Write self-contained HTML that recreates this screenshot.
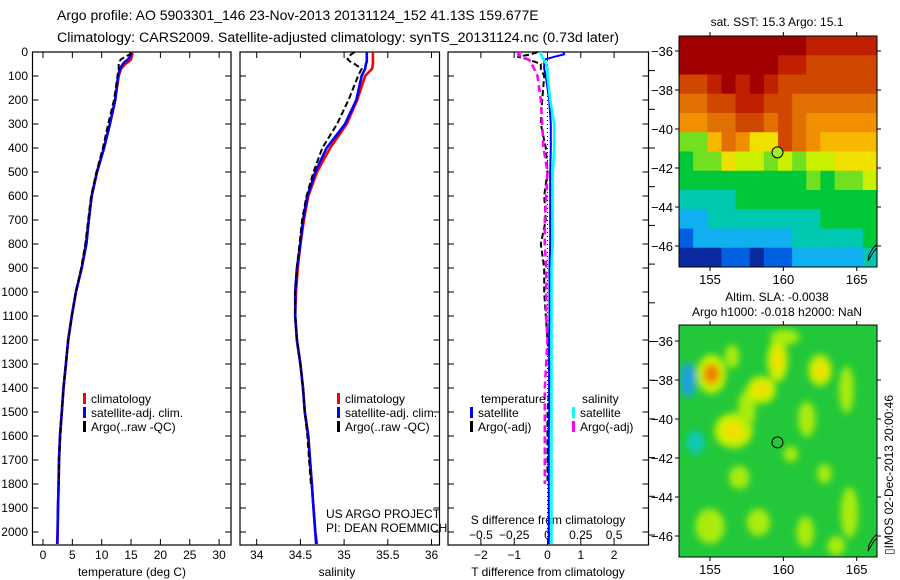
<!DOCTYPE html>
<html><head><meta charset="utf-8"><style>
html,body{margin:0;padding:0;background:#fff;}
svg{display:block;font-family:"Liberation Sans",sans-serif;}
text{fill:#000;}
</style></head><body>
<svg id="c" width="900" height="580" viewBox="0 0 900 580" xmlns="http://www.w3.org/2000/svg">
<text x="57" y="20" font-size="14">Argo profile: AO 5903301_146 23-Nov-2013 20131124_152 41.13S 159.677E</text>
<text x="57" y="42" font-size="14.2">Climatology: CARS2009. Satellite-adjusted climatology: synTS_20131124.nc (0.73d later)</text>
<g id="g"></g>
</svg>
<script>
// ---- data ----
const depths = [0,10,20,30,40,50,70,100,200,300,400,500,600,700,800,900,1000,1100,1200,1300,1400,1500,1600,1700,1800,1900,2000,2050];
const tempClim = [15.2,15.2,15.1,15.0,14.6,14.0,13.3,12.9,12.3,11.4,10.4,9.2,8.3,7.8,7.3,6.6,5.6,4.9,4.3,3.9,3.5,3.2,2.9,2.75,2.66,2.56,2.48,2.4];
const tempSat  = [15.0,15.0,14.8,14.5,14.0,13.6,13.1,12.8,12.3,11.4,10.4,9.2,8.3,7.8,7.4,6.6,5.6,4.9,4.3,3.9,3.5,3.2,2.9,2.73,2.66,2.56,2.48,2.45];
const tempArgo = [14.9,14.8,14.0,13.3,13.0,12.9,12.9,12.7,12.1,11.1,10.2,9.1,8.2,7.7,7.2,6.5,5.6,4.9,4.3,3.9,3.5,3.2,2.95,2.75,2.66];
const salClim = [35.33,35.33,35.33,35.33,35.33,35.33,35.32,35.24,35.15,35.03,34.84,34.69,34.59,34.54,34.5,34.47,34.45,34.44,34.46,34.5,34.53,34.55,34.59,34.61,34.63,34.65,34.67,34.69];
const salSat  = [35.26,35.26,35.26,35.26,35.26,35.25,35.24,35.2,35.14,35.01,34.8,34.67,34.58,34.53,34.5,34.46,34.44,34.44,34.46,34.5,34.53,34.55,34.59,34.61,34.63,34.65,34.67,34.68];
const salArgo = [35.12,35.08,35.05,35.04,35.07,35.12,35.2,35.16,35.05,34.92,34.75,34.65,34.57,34.52,34.49,34.46,34.44,34.44,34.46,34.5,34.53,34.55,34.58,34.6,34.62];
const dTsat  = [0.48,0.5,0.2,-0.05,-0.1,-0.1,-0.1,-0.05,0.05,0.1,0.1,0.08,0.08,0.08,0.08,0.06,0.06,0.06,0.05,0.05,0.05,0.05,0.04,0.04,0.04,0.04,0.04,0.04];
const dTargo = [-0.3,-0.5,-0.9,-0.6,-0.4,-0.2,-0.2,-0.1,-0.16,-0.2,-0.05,0,-0.1,-0.05,-0.2,-0.1,-0.1,-0.05,0.0,0.05,0.05,0.0,0.0,0.0,0.0];
const dSsat  = [-0.05,-0.05,-0.04,-0.03,-0.02,-0.01,0,0,0.02,0.05,0.05,0.04,0.04,0.04,0.04,0.03,0.03,0.03,0.03,0.03,0.03,0.03,0.03,0.03,0.03,0.03,0.03,0.03];
const dSargo = [-0.2,-0.22,-0.2,-0.15,-0.12,-0.12,-0.1,-0.075,-0.05,-0.04,-0.03,0,-0.01,-0.02,-0.02,-0.01,-0.01,-0.01,0,-0.01,-0.02,-0.02,-0.02,-0.02,-0.02];
const depthTicks = [0,100,200,300,400,500,600,700,800,900,1000,1100,1200,1300,1400,1500,1600,1700,1800,1900,2000];
const tempTicks = [0,5,10,15,20,25,30];
const salTicks = [34,34.5,35,35.5,36];
const dTTicks = [-2,-1,0,1,2];
const dSTicks = [-0.5,-0.25,0,0.25,0.5];
const lonTicks = [155,160,165];
const latTicks = [-36,-38,-40,-42,-44,-46];
// SST map grid (colour level 0..13), rows north->south
const sstGrid = [
[13,13,13,13,13,13,13,13,13,12,12,12,12,12],
[13,13,13,13,13,13,13,12,12,11,11,11,11,11],
[11,11,12,13,12,13,12,11,11,11,11,11,11,11],
[10,10,11,11,12,12,11,11,10,10,10,10,10,10],
[9,9,10,10,11,11,10,11,10,9,9,9,9,9],
[5,5,8,10,9,7,7,11,10,9,8,8,8,8],
[4,5,5,7,6,6,5,6,5,6,6,7,7,7],
[4,4,4,4,4,4,4,4,4,5,4,5,5,6],
[3,3,3,3,4,4,4,4,4,4,4,4,4,4],
[2,2,3,3,3,3,3,3,3,3,4,4,4,4],
[1,2,2,2,2,2,2,2,3,3,3,3,3,4],
[0,0,0,1,1,0,1,1,2,2,2,2,2,3]];
const sstColors = ["#0a2aa0","#0060e0","#10b0f0","#00c8b0","#00c838","#70e020","#c8f000","#f0e000","#f8b800","#f09000","#e07000","#d04800","#c02000","#a00000"];
// SLA features: lon, lat, half-width/height (deg), level
const slaLon = [155.1,156.6,157.5,158.5,159.6,160.1,162.5,161.6,164.3,155,158.3,164.5,157,161.5,160.5,153.5,154,162.8,163.6,156.5];
const slaLat = [-37.7,-40.6,-39.5,-38.5,-37,-35.8,-37.5,-40,-38.5,-45.5,-45.3,-44.8,-43,-45.8,-41.8,-38,-41.2,-42.8,-46.5,-36.8];
const slaRx  = [1.0,1.3,0.6,1.0,0.7,1.0,0.8,0.6,0.5,1.0,0.8,0.6,0.7,0.6,0.5,0.5,0.6,0.5,0.6,0.5];
const slaRy  = [1.0,0.9,1.0,0.7,1.1,0.4,0.8,0.9,1.2,0.9,0.7,1.3,0.6,0.8,0.4,0.9,0.6,0.5,0.5,0.6];
const slaLvl = [3,2,1,2,2,1,2,1,1,1,1,1,1,1,1,-2,-1,1,1,1];

// ---- helpers ----
const NS="http://www.w3.org/2000/svg";
const G=document.getElementById('g');
function el(tag,attrs,parent){const e=document.createElementNS(NS,tag);for(const k in attrs)e.setAttribute(k,attrs[k]);(parent||G).appendChild(e);return e;}
function txt(x,y,s,size,anchor,parent){const t=el('text',{x:x,y:y,'font-size':size||12,'text-anchor':anchor||'middle'},parent);t.textContent=s;return t;}
const yD = d => 52 + d*0.24;
const xT = v => 43 + v*5.87;
const xS = v => 256.7 + (v-34)*87.4;
const xDT = v => 547.5 + v*33.3;
const xDS = v => 547.5 + v*133.2;

function frame(x0,x1,name){
  const r=el('rect',{x:x0,y:52,width:x1-x0,height:493,fill:'none',stroke:'#000','stroke-width':1.2});
  
  
}
function line(xs,xf,ys,color,dash,name,w){
  const pts=xs.map((v,i)=>xf(v).toFixed(1)+','+yD(ys[i]).toFixed(1)).join(' ');
  const p=el('polyline',{points:pts,fill:'none',stroke:color,'stroke-width':w||2.6});
  if(dash)p.setAttribute('stroke-dasharray',dash);
  
  
}
function vticks(x0,x1){
  depthTicks.forEach(d=>{el('line',{x1:x0,x2:x0+6,y1:yD(d),y2:yD(d),stroke:'#000'});el('line',{x1:x1,x2:x1-6,y1:yD(d),y2:yD(d),stroke:'#000'});});
}
function hticks(vals,xf,ylab){
  vals.forEach(v=>{const x=xf(v);el('line',{x1:x,x2:x,y1:52,y2:58,stroke:'#000'});el('line',{x1:x,x2:x,y1:545,y2:539,stroke:'#000'});
    if(ylab){const t=txt(x,ylab,String(v).replace('-','\u2212'),12);}});
}
function legend(x,y,items){
  items.forEach((it,i)=>{el('rect',{x:x,y:y+i*14-10,width:3,height:11,fill:it[0]});
    const t=txt(x+8,y+i*14,it[1],12,'start');});
}

// ---- panel 1 temperature ----
frame(32.5,231,'temperature-panel');
vticks(32.5,231);
depthTicks.forEach(d=>{const t=txt(28,yD(d)+4,String(d),12,'end');});
hticks(tempTicks,xT,559);
let t1=txt(132,576,'temperature (deg C)',12);
line(tempClim,xT,depths,'#f00',null,'temp-climatology-line');
line(tempSat,xT,depths,'#0000ff',null,'temp-satellite-line');
line(tempArgo,xT,depths,'#000','6,3','temp-argo-line',2);
legend(83,403,[['#f00','climatology'],['#00f','satellite-adj. clim.'],['#000','Argo(..raw -QC)']]);

// ---- panel 2 salinity ----
frame(240,439.5,'salinity-panel');
vticks(240,439.5);
hticks(salTicks,xS,559);
let t2=txt(337,576,'salinity',12);
line(salClim,xS,depths,'#f00',null,'sal-climatology-line');
line(salSat,xS,depths,'#0000ff',null,'sal-satellite-line');
line(salArgo,xS,depths,'#000','6,3','sal-argo-line',2);
legend(337,403,[['#f00','climatology'],['#00f','satellite-adj. clim.'],['#000','Argo(..raw -QC)']]);
txt(326,518,'US ARGO PROJECT',12,'start');
txt(326,532,'PI: DEAN ROEMMICH',12,'start');

// ---- panel 3 differences ----
frame(448,648.5,'difference-panel');
vticks(448,648.5);
for(let k=0;k<13;k++){const y=535-k*38.7;el('line',{x1:648.5,x2:655,y1:y,y2:y,stroke:'#000'});}
hticks(dTTicks,xDT,559);
dSTicks.forEach(v=>{const t=txt(xDS(v),539,String(v).replace('-','\u2212'),12);});
txt(548,524,'S difference from climatology',12);
let t3=txt(548,576,'T difference from climatology',12);
el('line',{x1:xDT(0),x2:xDT(0),y1:52,y2:545,stroke:'#000','stroke-dasharray':'1,3'});
line(dTargo,xDT,depths,'#000','6,3','t-argo-diff-line',2);
line(dSargo,xDS,depths,'#ff00ff','7,4','s-argo-diff-line',2.6);
line(dTsat,xDT,depths,'#0000ff',null,'t-satellite-diff-line',2);
line(dSsat,xDS,depths,'#00ffff',null,'s-satellite-diff-line',2.6);
txt(481,403,'temperature',12,'start');
txt(582,403,'salinity',12,'start');
legend(470,417,[['#00f','satellite'],['#000','Argo(-adj)']]);
legend(572,417,[['#0ff','satellite'],['#f0f','Argo(-adj)']]);

// ---- maps ----
const mx0=679,mx1=877;
const xLon = v => 710 + (v-155)*14.67;
function map(y0,y1,lat36,name){
  const yLat = v => lat36 + (-36 - v)*19.5;
  const clipId='clip'+name;
  const cp=el('clipPath',{id:clipId});el('rect',{x:mx0,y:y0,width:mx1-mx0,height:y1-y0},cp);
  const g=el('g',{'clip-path':'url(#'+clipId+')'});
  
  
  return {g,yLat};
}
// SST
const m1=map(36,267,51,'sst-map');
const cw=(mx1-mx0)/14, ch=(267-36)/12;
sstGrid.forEach((row,r)=>row.forEach((v,c)=>{
  const cell=el('rect',{x:mx0+c*cw,y:36+r*ch,width:cw+0.5,height:ch+0.5,fill:sstColors[v]},m1.g);
  
  
}));
// SLA
const m2=map(325,557,341,'sla-map');
const defs=el('defs',{});const f=el('filter',{id:'blur',x:'-50%',y:'-50%',width:'200%',height:'200%'},defs);el('feGaussianBlur',{stdDeviation:3.5},f);
el('rect',{x:mx0,y:325,width:mx1-mx0,height:232,fill:'#22c83a'},m2.g);
const slaCol={'3':'#c8f000','2':'#c8f000','1':'#a8ec10','-1':'#10c8b8','-2':'#1aa0e0'};
const bg=el('g',{filter:'url(#blur)'},m2.g);
slaLon.forEach((lo,i)=>{
  const b=el('ellipse',{cx:xLon(lo),cy:m2.yLat(slaLat[i]),rx:slaRx[i]*14.67,ry:slaRy[i]*19.5,fill:slaCol[slaLvl[i]]},bg);
  
  
  if(slaLvl[i]>=2){el('ellipse',{cx:xLon(lo),cy:m2.yLat(slaLat[i]),rx:slaRx[i]*8,ry:slaRy[i]*10,fill:slaLvl[i]==3?'#f08000':'#f0e000'},bg);}
});
[[m1,36,267,51],[m2,325,557,341]].forEach(([m,y0,y1,l36])=>{
  const r=el('rect',{x:mx0,y:y0,width:mx1-mx0,height:y1-y0,fill:'none',stroke:'#000'});
  
  lonTicks.forEach(v=>{const x=xLon(v);el('line',{x1:x,x2:x,y1:y0-4,y2:y0,stroke:'#000'});el('line',{x1:x,x2:x,y1:y1,y2:y1+4,stroke:'#000'});
    const t=txt(x,y1+17,String(v),13);});
  latTicks.forEach(v=>{const y=m.yLat(v);el('line',{x1:mx0-4,x2:mx0,y1:y,y2:y,stroke:'#000'});el('line',{x1:mx1,x2:mx1+4,y1:y,y2:y,stroke:'#000'});
    const t=txt(mx0-6,y+5,String(v).replace('-','\u2212'),13,'end');});
  el('path',{d:'M'+(mx1)+','+(m.yLat(-45.9))+' l-4,4 l-4,7 l-1,6 l3,-5 l3,-5 l3,-3',fill:'none',stroke:'#000'});
});
const c1=el('circle',{cx:xLon(159.6),cy:m1.yLat(-41.2),r:5.5,fill:'#a0f020',stroke:'#000'});

const c2=el('circle',{cx:xLon(159.6),cy:m2.yLat(-41.2),r:5.5,fill:'none',stroke:'#000'});

txt(777,26,'sat. SST: 15.3 Argo: 15.1',12);
txt(777,301,'Altim. SLA: -0.0038',12);
txt(777,316,'Argo h1000: -0.018 h2000: NaN',12);
const rt=txt(0,0,'\u25AFIMOS 02-Dec-2013 20:00:46',12,'start');
rt.setAttribute('transform','translate(893,555) rotate(-90)');

</script>
</body></html>
